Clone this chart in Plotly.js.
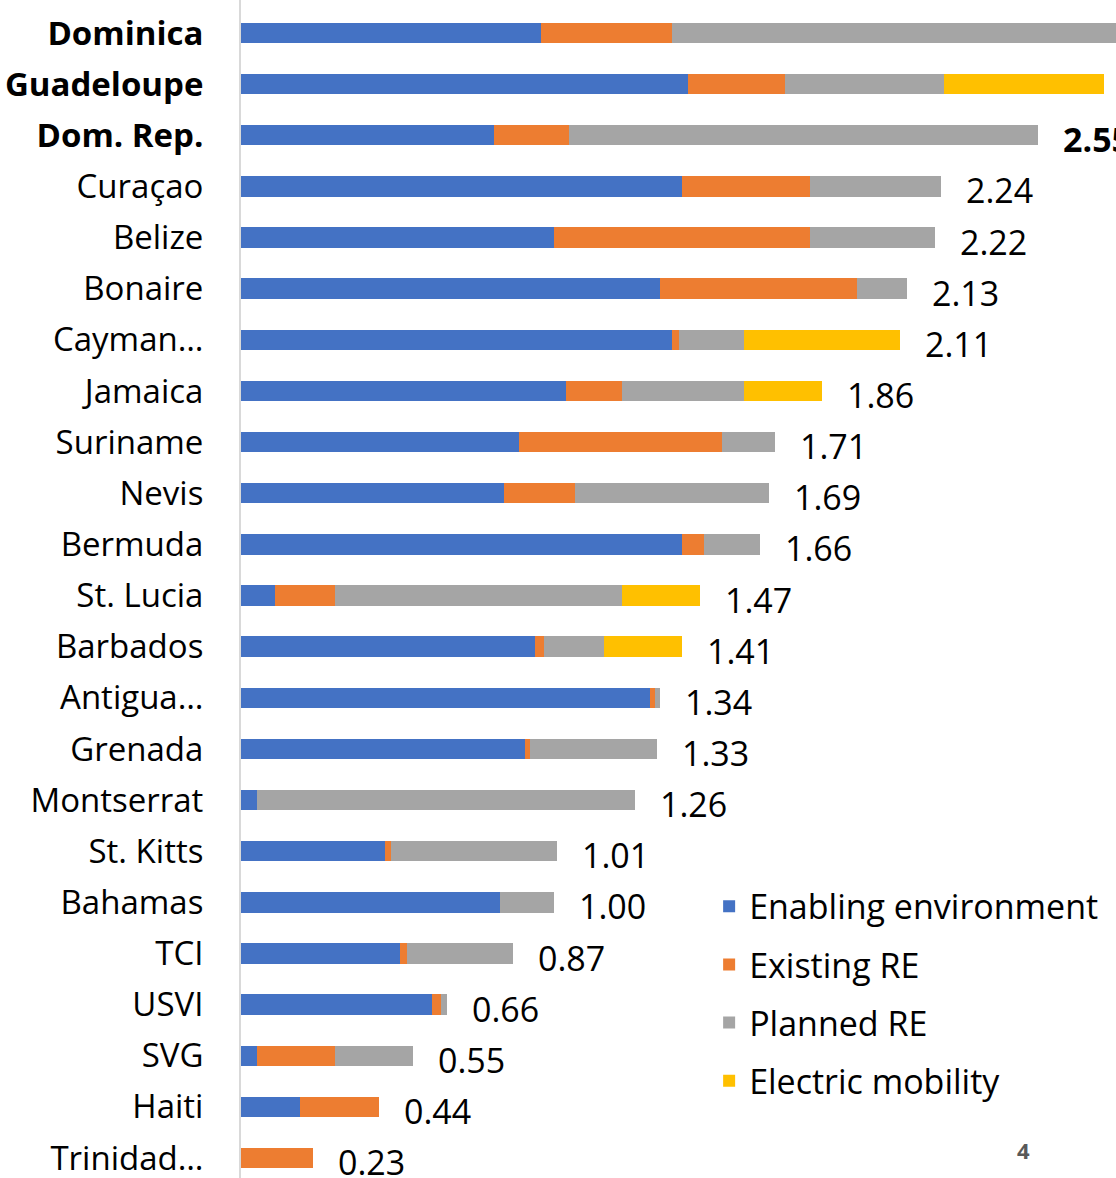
<!DOCTYPE html>
<html>
<head>
<meta charset="utf-8">
<script src="https://cdn.plot.ly/plotly-3.0.1.min.js"></script>
<style>
  html, body { margin: 0; padding: 0; background: #ffffff; }
  #chart { width: 1116px; height: 1178px; }
</style>
</head>
<body>
<div id="chart"></div>
<script>
// ---- Data ----
const categories = ["Dominica","Guadeloupe","Dom. Rep.","Curaçao","Belize","Bonaire","Cayman…","Jamaica","Suriname","Nevis","Bermuda","St. Lucia","Barbados","Antigua…","Grenada","Montserrat","St. Kitts","Bahamas","TCI","USVI","SVG","Haiti","Trinidad…"];
const highlighted = ["Dominica","Guadeloupe","Dom. Rep."];
// rows whose total label falls outside the cropped frame of the original picture
const unlabeled = ["Dominica","Guadeloupe"];

const enablingEnv = [0.96,1.43,0.81,1.41,1.00,1.34,1.38,1.04,0.89,0.84,1.41,0.11,0.94,1.31,0.91,0.05,0.46,0.83,0.51,0.61,0.05,0.19,0.00];
const existingRE  = [0.42,0.31,0.24,0.41,0.82,0.63,0.02,0.18,0.65,0.23,0.07,0.19,0.03,0.015,0.015,0.00,0.02,0.00,0.02,0.03,0.25,0.25,0.23];
const plannedRE   = [1.50,0.51,1.50,0.42,0.40,0.16,0.21,0.39,0.17,0.62,0.18,0.92,0.19,0.015,0.405,1.21,0.53,0.17,0.34,0.02,0.25,0.00,0.00];
const eMobility   = [0.00,0.51,0.00,0.00,0.00,0.00,0.50,0.25,0.00,0.00,0.00,0.25,0.25,0.00,0.00,0.00,0.00,0.00,0.00,0.00,0.00,0.00,0.00];

const seriesNames = ["Enabling environment","Existing RE","Planned RE","Electric mobility"];
const seriesColors = ["#4472C4","#ED7D31","#A5A5A5","#FFC000"];
const seriesValues = [enablingEnv, existingRE, plannedRE, eMobility];

// ---- Build traces ----
const FONT = "'Open Sans', 'Noto Sans', sans-serif";
const traces = seriesValues.map((vals, i) => ({
  type: "bar",
  orientation: "h",
  name: seriesNames[i],
  legendgroup: "g" + i,
  x: vals,
  y: categories,
  marker: { color: seriesColors[i], line: { width: 0 } },
  hoverinfo: "name+x"
}));

const totals = categories.map((c, k) =>
  Math.round(seriesValues.reduce((s, arr) => s + arr[k], 0) * 100) / 100);

const annotations = [];
categories.forEach((c, k) => {
  if (unlabeled.includes(c)) return;
  const bold = highlighted.includes(c);
  const t = totals[k].toFixed(2);
  annotations.push({
    xref: "x", yref: "y",
    x: totals[k], y: c,
    text: bold ? "<b>" + t + "</b>" : t,
    showarrow: false,
    xanchor: "left", yanchor: "middle",
    xshift: 23, yshift: -4,
    font: { family: FONT, size: 34, color: "#000000" }
  });
});

annotations.push({
  xref: "paper", yref: "paper",
  x: 0.894, y: 0.024,
  text: "<b>4</b>",
  showarrow: false,
  xanchor: "center", yanchor: "middle",
  font: { family: FONT, size: 22, color: "#595959" }
});

const layout = {
  width: 1116,
  height: 1178,
  margin: { l: 241, r: 0, t: 0, b: 0, pad: 0 },
  paper_bgcolor: "#ffffff",
  plot_bgcolor: "#ffffff",
  barmode: "stack",
  bargap: 0.6,
  showlegend: true,
  legend: {
    x: 0.535, y: 0.255, xanchor: "left", yanchor: "top",
    traceorder: "grouped",
    tracegroupgap: 11,
    font: { family: FONT, size: 34, color: "#000000" },
    bgcolor: "rgba(0,0,0,0)",
    borderwidth: 0
  },
  xaxis: {
    range: [0, 2.8],
    showgrid: false, zeroline: false, showline: false,
    showticklabels: false, ticks: "", fixedrange: true
  },
  yaxis: {
    type: "category",
    categoryorder: "array",
    categoryarray: categories,
    range: [22.39, -0.645],
    tickvals: categories,
    ticktext: categories.map(c => highlighted.includes(c) ? "<b>" + c + "</b>" : c),
    tickfont: { family: FONT, size: 33, color: "#000000" },
    ticks: "",
    ticklabelstandoff: 29,
    showgrid: false, zeroline: false,
    showline: true, linecolor: "#d9d9d9", linewidth: 2,
    fixedrange: true
  },
  annotations: annotations
};

Plotly.newPlot("chart", traces, layout, { displayModeBar: false, staticPlot: true });
</script>
</body>
</html>
